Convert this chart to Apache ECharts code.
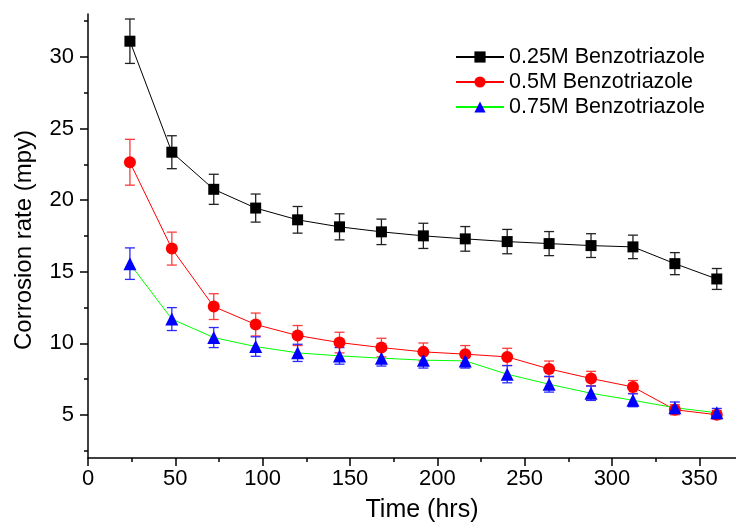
<!DOCTYPE html>
<html>
<head>
<meta charset="utf-8">
<script src="https://cdn.jsdelivr.net/npm/echarts@6/dist/echarts.min.js"></script>
<style>
	html, body { margin: 0; padding: 0; background: #fff; }
	#chart { width: 736px; height: 522px; }
</style>
</head>
<body>
<div id="chart"></div>
<script>
const hours = [24, 48, 72, 96, 120, 144, 168, 192, 216, 240, 264, 288, 312, 336, 360];

const bta025 = [31.1, 23.35, 20.76, 19.45, 18.63, 18.14, 17.79, 17.51, 17.3, 17.11, 16.97, 16.83, 16.74, 15.57, 14.5];
const bta05 = [22.65, 16.62, 12.57, 11.32, 10.55, 10.06, 9.71, 9.41, 9.25, 9.06, 8.22, 7.55, 6.96, 5.37, 5.02];
const bta075 = [15.57, 11.7, 10.41, 9.78, 9.34, 9.13, 8.97, 8.83, 8.78, 7.85, 7.15, 6.52, 6.03, 5.51, 5.16];

const err025 = [1.55, 1.15, 1.05, 0.98, 0.93, 0.91, 0.89, 0.88, 0.86, 0.85, 0.84, 0.83, 0.82, 0.77, 0.73];
const err05 = [1.6, 1.15, 0.9, 0.8, 0.7, 0.72, 0.65, 0.62, 0.6, 0.6, 0.55, 0.5, 0.45, 0.35, 0.3];
const err075 = [1.1, 0.8, 0.7, 0.68, 0.6, 0.58, 0.55, 0.55, 0.5, 0.6, 0.55, 0.5, 0.45, 0.4, 0.3];

const seriesNames = ['0.25M Benzotriazole', '0.5M Benzotriazole', '0.75M Benzotriazole'];

const xMajor = [0, 50, 100, 150, 200, 250, 300, 350];
const xMinor = [25, 75, 125, 175, 225, 275, 325];
const yMajor = [5, 10, 15, 20, 25, 30];
const yMinor = [2.5, 7.5, 12.5, 17.5, 22.5, 27.5, 32.5];

const font = '"Liberation Sans", Arial, sans-serif';

const chart = echarts.init(document.getElementById('chart'));

function errorBars(vals, errs, color) {
	return {
		type: 'custom',
		name: 'err',
		z: 1,
		silent: true,
		data: hours.map((h, i) => [h, vals[i], errs[i]]),
		renderItem: (params, api) => {
			const x = api.value(0);
			const y = api.value(1);
			const e = api.value(2);
			const top = api.coord([x, y + e]);
			const bot = api.coord([x, y - e]);
			const hw = 5;
			const style = { stroke: color, lineWidth: 1.3 };
			return {
				type: 'group',
				children: [
					{ type: 'line', shape: { x1: top[0], y1: top[1], x2: bot[0], y2: bot[1] }, style },
					{ type: 'line', shape: { x1: top[0] - hw, y1: top[1], x2: top[0] + hw, y2: top[1] }, style },
					{ type: 'line', shape: { x1: bot[0] - hw, y1: bot[1], x2: bot[0] + hw, y2: bot[1] }, style },
				],
			};
		},
	};
}

function lineSeries(name, vals, lineColor, markColor, symbol, size) {
	return {
		type: 'line',
		name,
		z: 2,
		data: hours.map((h, i) => [h, vals[i]]),
		symbol,
		symbolSize: size,
		showAllSymbol: true,
		lineStyle: { color: lineColor, width: 1 },
		itemStyle: { color: markColor, borderWidth: 0 },
		emphasis: { disabled: true },
	};
}

const axisLine = { show: true, lineStyle: { color: '#000', width: 1.5 } };

const option = {
	animation: false,
	backgroundColor: '#fff',
	grid: { left: 88, top: 14, right: 0, bottom: 64, outerBoundsMode: 'none' },
	// y axis title, placed by hand so it sits where the original has it
	graphic: [
		{
			type: 'text',
			x: 24,
			y: 240,
			rotation: Math.PI / 2,
			style: {
				text: 'Corrosion rate (mpy)',
				font: '24px "Liberation Sans", Arial, sans-serif',
				fill: '#000',
				align: 'center',
				verticalAlign: 'middle',
			},
		},
	],
	legend: {
		orient: 'vertical',
		left: 450,
		top: 41,
		itemWidth: 48,
		itemHeight: 14,
		itemGap: 3,
		data: seriesNames,
		textStyle: { fontSize: 21.5, color: '#000', fontFamily: font },
	},
	xAxis: [
		{
			type: 'value',
			min: 0,
			max: 371,
			name: 'Time (hrs)',
			nameLocation: 'middle',
			nameGap: 40,
			nameTextStyle: { fontSize: 25, color: '#000', fontFamily: font, padding: [0, 0, 0, 20] },
			axisLine,
			splitLine: { show: false },
			axisTick: { customValues: xMajor, length: 8, lineStyle: { color: '#000', width: 1.5 } },
			axisLabel: { customValues: xMajor, fontSize: 22, color: '#000', fontFamily: font, margin: 10 },
		},
		{
			type: 'value',
			min: 0,
			max: 371,
			position: 'bottom',
			axisLine: { show: false },
			splitLine: { show: false },
			axisTick: { customValues: xMinor, length: 4, lineStyle: { color: '#000', width: 1.5 } },
			axisLabel: { show: false },
		},
	],
	yAxis: [
		{
			type: 'value',
			min: 2,
			max: 33,
			axisLine,
			splitLine: { show: false },
			axisTick: { customValues: yMajor, length: 8, lineStyle: { color: '#000', width: 1.5 } },
			axisLabel: { customValues: yMajor, fontSize: 22, color: '#000', fontFamily: font, margin: 14 },
		},
		{
			type: 'value',
			min: 2,
			max: 33,
			position: 'left',
			axisLine: { show: false },
			splitLine: { show: false },
			axisTick: { customValues: yMinor, length: 4, lineStyle: { color: '#000', width: 1.5 } },
			axisLabel: { show: false },
		},
	],
	series: [
		errorBars(bta025, err025, '#222'),
		errorBars(bta05, err05, '#ff3c3c'),
		errorBars(bta075, err075, '#2a2aff'),
		lineSeries(seriesNames[0], bta025, '#000', '#000', 'rect', 11),
		lineSeries(seriesNames[1], bta05, '#ff0000', '#ff0000', 'circle', 12),
		lineSeries(seriesNames[2], bta075, '#00ff00', '#0000ff', 'triangle', 13),
	],
};

chart.setOption(option);
</script>
</body>
</html>
